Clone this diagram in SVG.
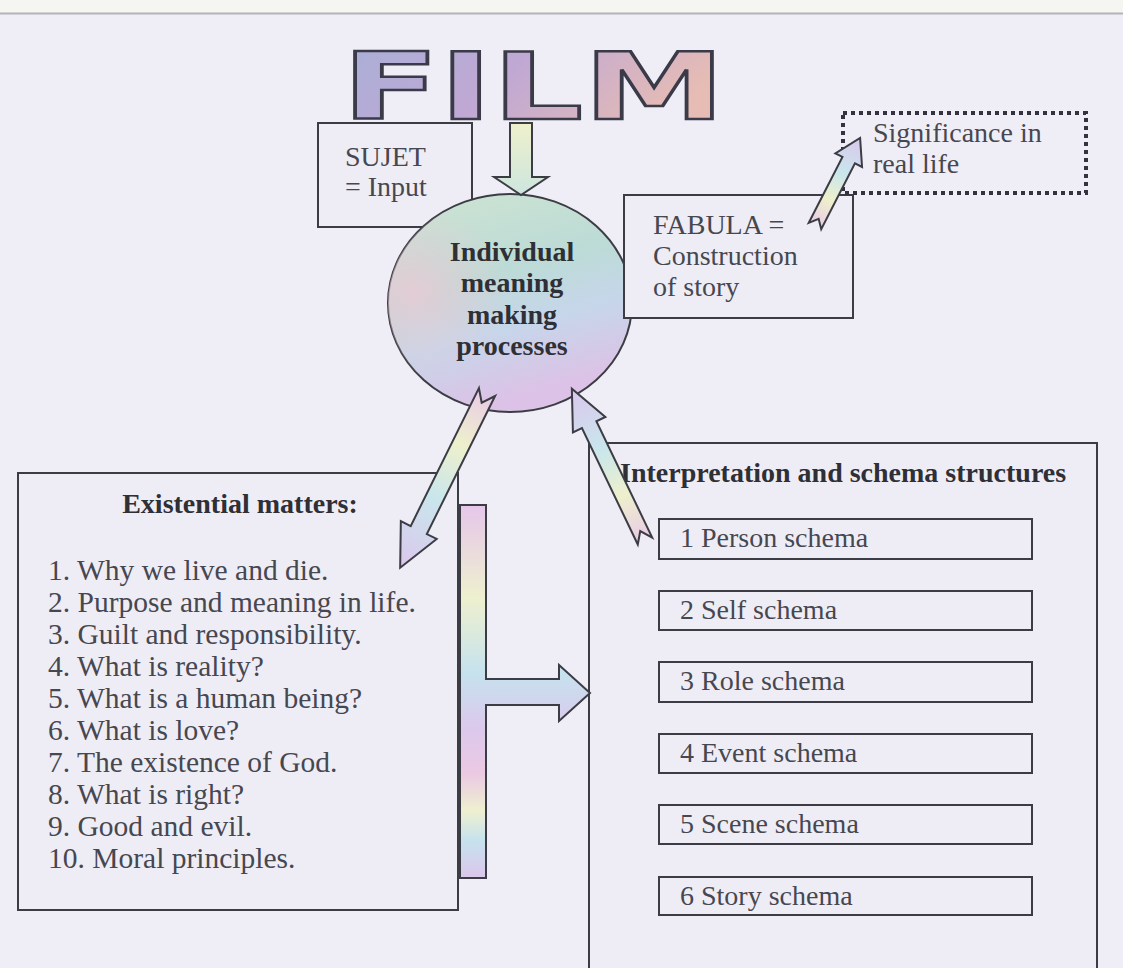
<svg xmlns="http://www.w3.org/2000/svg" width="1123" height="968" viewBox="0 0 1123 968">
<defs>
<style>
.box{fill:#eeedf6;stroke:#3c3c44;stroke-width:2}
.t{font-family:"Liberation Serif","Times New Roman",serif;font-size:28px;fill:#474750}
.b{font-family:"Liberation Serif","Times New Roman",serif;font-size:28px;font-weight:bold;fill:#2f2f36}
.li{font-size:29.5px}
.arr{stroke:#3c3c44;stroke-width:2;stroke-linejoin:miter}
</style>
<linearGradient id="rain" x1="0" y1="0" x2="1" y2="0">
<stop offset="0" stop-color="#e9cbe6"/>
<stop offset="0.3" stop-color="#eef0cc"/>
<stop offset="0.6" stop-color="#c9e6ec"/>
<stop offset="1" stop-color="#dbc7ec"/>
</linearGradient>
<linearGradient id="rainV" x1="0" y1="0" x2="0" y2="1">
<stop offset="0" stop-color="#e6c6ea"/>
<stop offset="0.25" stop-color="#eef0cf"/>
<stop offset="0.45" stop-color="#c6e2ee"/>
<stop offset="0.6" stop-color="#dcc8ec"/>
<stop offset="0.72" stop-color="#ebc9e3"/>
<stop offset="0.82" stop-color="#eef0cf"/>
<stop offset="0.9" stop-color="#c6e2ee"/>
<stop offset="1" stop-color="#dcc6ec"/>
</linearGradient>
<linearGradient id="downG" x1="0" y1="0" x2="0" y2="1">
<stop offset="0" stop-color="#eef0cc"/>
<stop offset="1" stop-color="#cde6de"/>
</linearGradient>
<linearGradient id="filmG" x1="0" y1="0" x2="1" y2="0.3">
<stop offset="0" stop-color="#a8b0d8"/>
<stop offset="0.5" stop-color="#c0a8d4"/>
<stop offset="1" stop-color="#e6bcb4"/>
</linearGradient>
<linearGradient id="ellG" x1="0" y1="0" x2="0.3" y2="1">
<stop offset="0" stop-color="#cfe4d2"/>
<stop offset="0.45" stop-color="#bcdbd6"/>
<stop offset="0.7" stop-color="#c6d6ea"/>
<stop offset="1" stop-color="#dcc2e6"/>
</linearGradient>
<radialGradient id="ellPink" cx="0.1" cy="0.45" r="0.4">
<stop offset="0" stop-color="#ecc8d4" stop-opacity="0.8"/>
<stop offset="1" stop-color="#ecc8d4" stop-opacity="0"/>
</radialGradient>
</defs>

<rect x="0" y="0" width="1123" height="968" fill="#efeef7"/>
<rect x="0" y="0" width="1123" height="13" fill="#f5f5f2"/>
<line x1="0" y1="13.5" x2="1123" y2="13.5" stroke="#b4b4b8" stroke-width="2"/>

<g id="film">
<text x="342" y="119" font-family="DejaVu Sans" font-weight="bold" font-size="93" textLength="383" lengthAdjust="spacingAndGlyphs" fill="url(#filmG)" stroke="#3a3a48" stroke-width="2.5">FILM</text>
</g>

<g id="sujet">
<rect class="box" x="318" y="123" width="154" height="104"/>
<text class="t" x="345" y="166" font-size="27">SUJET</text>
<text class="t" x="345" y="196" font-size="27">= Input</text>
</g>

<g id="meaning">
<ellipse cx="510" cy="303" rx="122" ry="109" fill="url(#ellG)" stroke="#3c3c44" stroke-width="2"/>
<ellipse cx="510" cy="303" rx="122" ry="109" fill="url(#ellPink)"/>
<text class="b" x="512" y="261" text-anchor="middle" font-size="27">Individual</text>
<text class="b" x="512" y="292" text-anchor="middle" font-size="27">meaning</text>
<text class="b" x="512" y="324" text-anchor="middle" font-size="27">making</text>
<text class="b" x="512" y="355" text-anchor="middle" font-size="27">processes</text>
</g>

<g id="fabula">
<rect class="box" x="624" y="195" width="229" height="123"/>
<text class="t" x="653" y="234" font-size="28.5">FABULA =</text>
<text class="t" x="653" y="265" font-size="28.5">Construction</text>
<text class="t" x="653" y="296" font-size="28.5">of story</text>
</g>

<g id="significance">
<rect x="843" y="113" width="243" height="80" fill="none" stroke="#333340" stroke-width="4" stroke-dasharray="4 4"/>
<text class="t" x="873" y="142" font-size="29" fill="#4a4a66">Significance in</text>
<text class="t" x="873" y="173" font-size="29" fill="#4a4a66">real life</text>
</g>

<g id="existential">
<rect class="box" x="18" y="473" width="440" height="437"/>
<text class="b" x="240" y="513" text-anchor="middle" font-size="29">Existential matters:</text>
<text class="t li" x="48" y="580">1. Why we live and die.</text>
<text class="t li" x="48" y="612">2. Purpose and meaning in life.</text>
<text class="t li" x="48" y="644">3. Guilt and responsibility.</text>
<text class="t li" x="48" y="676">4. What is reality?</text>
<text class="t li" x="48" y="708">5. What is a human being?</text>
<text class="t li" x="48" y="740">6. What is love?</text>
<text class="t li" x="48" y="772">7. The existence of God.</text>
<text class="t li" x="48" y="804">8. What is right?</text>
<text class="t li" x="48" y="836">9. Good and evil.</text>
<text class="t li" x="48" y="868">10. Moral principles.</text>
</g>

<g id="interpretation">
<rect class="box" x="589" y="443" width="508" height="540"/>
<text class="b" x="620" y="482">Interpretation and schema structures</text>
<rect class="box" x="659" y="519" width="373" height="40"/>
<text class="t" x="680" y="547">1 Person schema</text>
<rect class="box" x="659" y="591" width="373" height="39"/>
<text class="t" x="680" y="619">2 Self schema</text>
<rect class="box" x="659" y="662" width="373" height="40"/>
<text class="t" x="680" y="690">3 Role schema</text>
<rect class="box" x="659" y="734" width="373" height="39"/>
<text class="t" x="680" y="762">4 Event schema</text>
<rect class="box" x="659" y="805" width="373" height="39"/>
<text class="t" x="680" y="833">5 Scene schema</text>
<rect class="box" x="659" y="877" width="373" height="38"/>
<text class="t" x="680" y="905">6 Story schema</text>
</g>

<g id="connectors">
<polygon class="arr" fill="url(#downG)" points="510,123 532,123 532,177 548,177 521,195 494,177 510,177"/>
<polygon class="arr" fill="url(#rain)" transform="translate(815,226) rotate(-62.9)" points="0,-7 74,-7 74,-15 99,0 74,15 74,7 0,7 8,0"/>
<polygon class="arr" fill="url(#rain)" transform="translate(487,392) rotate(116.3)" points="0,-9 154,-9 154,-20 196,0 154,20 154,9 0,9 12,0"/>
<polygon class="arr" fill="url(#rain)" transform="translate(645,541) rotate(-115.65)" points="0,-8 129,-8 129,-18 169,0 129,18 129,8 0,8 11,0"/>
<polygon class="arr" fill="url(#rainV)" points="460,505 486,505 486,679 559,679 559,665 590,693 559,721 559,705 486,705 486,878 460,878"/>
</g>
</svg>
